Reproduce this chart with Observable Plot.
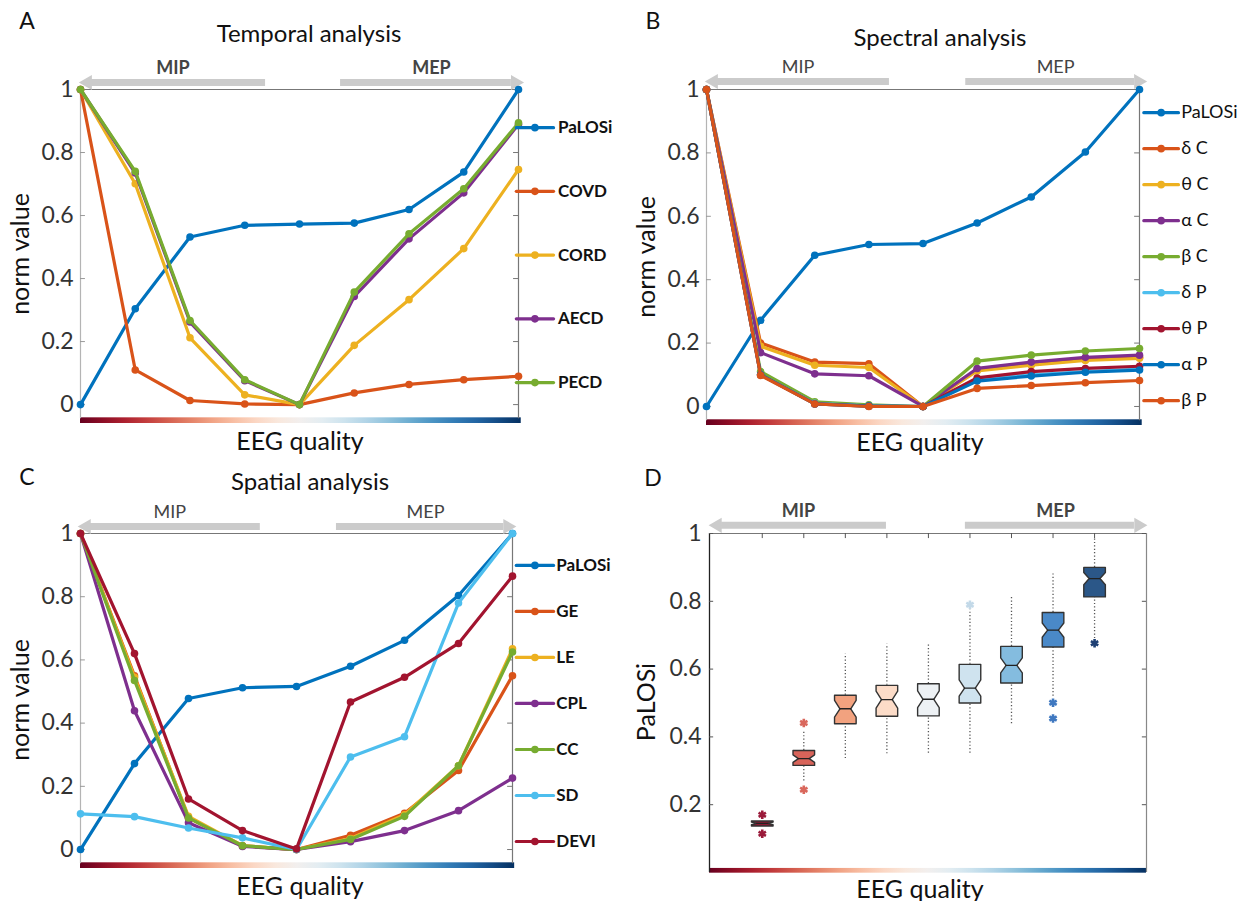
<!DOCTYPE html>
<html><head><meta charset="utf-8">
<script src="https://cdn.jsdelivr.net/npm/d3@7"></script>
<script src="https://cdn.jsdelivr.net/npm/@observablehq/plot@0.6"></script>
<style>
body{margin:0;background:#fff;}
#root{position:relative;width:1250px;height:901px;font-family:Lato,"Open Sans",sans-serif;color:#222;overflow:hidden;background:#fff}
.abs{position:absolute;white-space:nowrap;transform:translate(-50%,-50%);line-height:1}
.rot{transform:translate(-50%,-50%) rotate(-90deg);}
.panel{position:absolute;}
</style></head><body>
<svg width="0" height="0" style="position:absolute"><defs><linearGradient id="rdbu" x1="0" x2="1" y1="0" y2="0"></linearGradient></defs></svg>
<div id="root"></div>
<script>
// ---------------- DATA ----------------
const levels = [1, 2, 3, 4, 5, 6, 7, 8, 9];
const lineTicks = [0, 0.2, 0.4, 0.6, 0.8, 1];
const boxTicks = [0.2, 0.4, 0.6, 0.8, 1];

// Panel A: temporal analysis
const temporalNames = ["PaLOSi", "COVD", "CORD", "AECD", "PECD"];
const tPaLOSi = [0, 0.304, 0.532, 0.569, 0.573, 0.576, 0.619, 0.738, 1];
const tCOVD   = [1, 0.110, 0.013, 0.002, 0, 0.037, 0.064, 0.079, 0.090];
const tCORD   = [1, 0.701, 0.212, 0.031, 0, 0.188, 0.333, 0.495, 0.746];
const tAECD   = [1, 0.735, 0.262, 0.076, 0, 0.343, 0.526, 0.672, 0.890];
const tPECD   = [1, 0.740, 0.267, 0.079, 0, 0.357, 0.542, 0.685, 0.894];

// Panel B: spectral analysis
const spectralNames = ["PaLOSi", "δ C", "θ C", "α C", "β C", "δ P", "θ P", "α P", "β P"];
const sPaLOSi = [0, 0.272, 0.477, 0.511, 0.514, 0.579, 0.661, 0.803, 1];
const sDeltaC = [1, 0.200, 0.140, 0.135, 0, 0.115, 0.133, 0.148, 0.155];
const sThetaC = [1, 0.190, 0.130, 0.123, 0, 0.112, 0.130, 0.145, 0.152];
const sAlphaC = [1, 0.170, 0.103, 0.097, 0, 0.120, 0.140, 0.155, 0.162];
const sBetaC  = [1, 0.110, 0.015, 0.005, 0, 0.143, 0.162, 0.175, 0.183];
const sDeltaP = [1, 0.100, 0.010, 0.002, 0, 0.085, 0.100, 0.110, 0.118];
const sThetaP = [1, 0.100, 0.008, 0.001, 0, 0.090, 0.110, 0.120, 0.127];
const sAlphaP = [1, 0.100, 0.008, 0.001, 0, 0.080, 0.096, 0.108, 0.115];
const sBetaP  = [1, 0.098, 0.008, 0, 0, 0.057, 0.066, 0.075, 0.082];

// Panel C: spatial analysis
const spatialNames = ["PaLOSi", "GE", "LE", "CPL", "CC", "SD", "DEVI"];
const cPaLOSi = [0, 0.272, 0.478, 0.512, 0.516, 0.580, 0.662, 0.804, 1];
const cGE     = [1, 0.550, 0.100, 0.012, 0, 0.045, 0.115, 0.250, 0.550];
const cLE     = [1, 0.545, 0.105, 0.012, 0, 0.035, 0.110, 0.265, 0.635];
const cCPL    = [1, 0.439, 0.085, 0.010, 0, 0.025, 0.060, 0.123, 0.226];
const cCC     = [1, 0.535, 0.100, 0.012, 0, 0.032, 0.105, 0.265, 0.625];
const cSD     = [0.113, 0.104, 0.068, 0.037, 0, 0.293, 0.357, 0.780, 1];
const cDEVI   = [1, 0.620, 0.160, 0.060, 0.002, 0.467, 0.545, 0.652, 0.865];

// Panel D: PaLOSi boxplots per EEG quality level
const boxQ1       = [0.137, 0.316, 0.439, 0.461, 0.462, 0.500, 0.559, 0.665, 0.813];
const boxMedian   = [0.145, 0.336, 0.483, 0.510, 0.511, 0.544, 0.611, 0.715, 0.867];
const boxQ3       = [0.152, 0.360, 0.523, 0.552, 0.557, 0.614, 0.667, 0.767, 0.900];
const whiskerLow  = [0.137, 0.270, 0.336, 0.350, 0.352, 0.352, 0.439, 0.520, 0.690];
const whiskerHigh = [0.152, 0.420, 0.644, 0.673, 0.677, 0.775, 0.812, 0.887, 0.985];
const notchHalf   = [0.004, 0.011, 0.025, 0.025, 0.025, 0.024, 0.022, 0.021, 0.018];
const outlierLevel = [1, 1, 2, 2, 6, 8, 8, 9];
const outlierValue = [0.170, 0.114, 0.441, 0.244, 0.790, 0.501, 0.454, 0.676];

// colours
const matlab = ["#0072BD", "#D95319", "#EDB120", "#7E2F8E", "#77AC30", "#4DBEEE", "#A2142F"];
const boxColors = ["#8a1a33", "#d8645a", "#f2a27f", "#fcdcc8", "#edf1f4", "#cfe3ef", "#84bcdf", "#4a89c8", "#2b5788"];
const outlierColors = ["#9b1b3b", "#d9675c", "#f2a27f", "#fcdcc8", "#edf1f4", "#c3d9e8", "#84bcdf", "#3f78c0", "#1e3f73"];

// ---------------- helpers ----------------
const FONT = "Lato, 'Open Sans', sans-serif";
const grad = document.getElementById("rdbu");
d3.range(0, 1.0001, 0.05).forEach(t => {
  const s = document.createElementNS("http://www.w3.org/2000/svg", "stop");
  s.setAttribute("offset", t);
  s.setAttribute("stop-color", d3.interpolateRdBu(t));
  grad.appendChild(s);
});

const root = document.getElementById("root");
function label(text, x, y, css) {
  const d = document.createElement("div");
  d.className = "abs";
  d.textContent = text;
  d.style.left = x + "px";
  d.style.top = y + "px";
  Object.assign(d.style, css || {});
  root.appendChild(d);
  return d;
}
function place(svg, left, top) {
  const w = document.createElement("div");
  w.className = "panel";
  w.style.left = left + "px";
  w.style.top = top + "px";
  w.appendChild(svg);
  root.appendChild(w);
}
const fmt = d => String(d);

function arrowMarks(a, bold) {
  const shaft = {stroke: "#cbcbcb", strokeWidth: 7};
  return [
    Plot.ruleY([{y: a.y, x1: a.mip[0] + a.head, x2: a.mip[1]}], {y: "y", x1: "x1", x2: "x2", ...shaft}),
    Plot.dot([{x: a.mip[0], y: a.y}], {x: "x", y: "y", symbol: "triangle", r: 5.6, rotate: -90, dx: 7, fill: "#cbcbcb"}),
    Plot.ruleY([{y: a.y, x1: a.mep[0], x2: a.mep[1] - a.head}], {y: "y", x1: "x1", x2: "x2", ...shaft}),
    Plot.dot([{x: a.mep[1], y: a.y}], {x: "x", y: "y", symbol: "triangle", r: 5.6, rotate: 90, dx: -7, fill: "#cbcbcb"}),
    Plot.text([{x: (a.mip[0] + a.mip[1]) / 2, y: a.y, t: "MIP"}, {x: (a.mep[0] + a.mep[1]) / 2, y: a.y, t: "MEP"}],
      {x: "x", y: "y", text: "t", dy: -14, fontSize: 18, fontWeight: bold ? "bold" : "normal", fill: "#444"})
  ];
}

function linePanel(p) {
  const marks = [];
  marks.push(Plot.rect([{x1: 1, x2: p.cbRight, y1: -0.06, y2: -0.042}], {x1: "x1", x2: "x2", y1: "y1", y2: "y2", fill: "url(#rdbu)"}));
  marks.push(Plot.ruleX([{x: 1, y1: -0.045, y2: 1}], {x: "x", y1: "y1", y2: "y2", stroke: "#b4b4b4", strokeWidth: 1.2}));
  marks.push(Plot.ruleX([{x: 9, y1: -0.045, y2: 1}], {x: "x", y1: "y1", y2: "y2", stroke: "#777", strokeWidth: 1.2}));
  marks.push(Plot.ruleY([{y: 1, x1: 1, x2: 9}], {y: "y", x1: "x1", x2: "x2", stroke: "#777", strokeWidth: 1.2}));
  marks.push(Plot.ruleY(lineTicks, {y: d => d, x1: 1, x2: 1.09, stroke: "#999"}));
  marks.push(Plot.ruleY(lineTicks, {y: d => d, x1: 8.91, x2: 9, stroke: "#777"}));
  marks.push(...arrowMarks(p.arrows, p.bold));
  p.series.forEach(s => {
    const rows = levels.map((l, j) => ({x: l, y: s.values[j]}));
    marks.push(Plot.line(rows, {x: "x", y: "y", stroke: s.color, strokeWidth: 3.2}));
    marks.push(Plot.dot(rows, {x: "x", y: "y", r: 3.8, fill: s.color}));
  });
  const L = p.legend;
  p.series.forEach((s, i) => {
    const ly = L.top - i * L.step;
    marks.push(Plot.line([{x: L.x1, y: ly}, {x: L.x2, y: ly}], {x: "x", y: "y", stroke: s.color, strokeWidth: 3.2}));
    marks.push(Plot.dot([{x: (L.x1 + L.x2) / 2, y: ly}], {x: "x", y: "y", r: 3.8, fill: s.color}));
    marks.push(Plot.text([{x: L.tx, y: ly, t: s.name}], {x: "x", y: "y", text: "t", textAnchor: "start",
      fontSize: L.fontSize, fontWeight: L.bold ? "bold" : "normal", fill: "#111"}));
  });
  return Plot.plot({
    width: p.width, height: p.height,
    marginLeft: p.ml, marginRight: p.mr, marginTop: p.mt, marginBottom: p.mb,
    x: {domain: [1, 9], axis: null},
    y: {domain: [-0.06, 1], ticks: lineTicks, tickFormat: fmt, tickSize: 0, tickPadding: 7, label: null},
    style: {fontFamily: FONT, fontSize: "23px", color: "#333", background: "transparent", overflow: "visible"},
    marks
  });
}

// ---------------- Panel A ----------------
const tValues = [tPaLOSi, tCOVD, tCORD, tAECD, tPECD];
place(linePanel({
  width: 620, height: 450, ml: 80, mr: 102, mt: 89, mb: 27, cbRight: 9.05, bold: true,
  series: temporalNames.map((n, i) => ({name: n, values: tValues[i], color: matlab[i]})),
  legend: {top: 0.879, step: 0.2023, x1: 8.96, x2: 9.64, tx: 9.72, fontSize: 17, bold: true},
  arrows: {y: 1.022, head: 0.2, mip: [1, 4.38], mep: [5.75, 9.07]}
}), 0, 0);

// ---------------- Panel B ----------------
const sValues = [sPaLOSi, sDeltaC, sThetaC, sAlphaC, sBetaC, sDeltaP, sThetaP, sAlphaP, sBetaP];
const sColors = [matlab[0], matlab[1], matlab[2], matlab[3], matlab[4], matlab[5], matlab[6], matlab[0], matlab[1]];
place(linePanel({
  width: 630, height: 450, ml: 86, mr: 111, mt: 89, mb: 25, cbRight: 9.05, bold: false,
  series: spectralNames.map((n, i) => ({name: n, values: sValues[i], color: sColors[i]})),
  legend: {top: 0.927, step: 0.1136, x1: 9.08, x2: 9.72, tx: 9.77, fontSize: 18, bold: false},
  arrows: {y: 1.025, head: 0.2, mip: [1, 4.38], mep: [5.79, 9.11]}
}), 620, 0);

// ---------------- Panel C ----------------
const cValues = [cPaLOSi, cGE, cLE, cCPL, cCC, cSD, cDEVI];
place(linePanel({
  width: 620, height: 451, ml: 80, mr: 108, mt: 83, mb: 33, cbRight: 9.04, bold: false,
  series: spatialNames.map((n, i) => ({name: n, values: cValues[i], color: matlab[i]})),
  legend: {top: 0.899, step: 0.1456, x1: 9.07, x2: 9.76, tx: 9.81, fontSize: 17, bold: true},
  arrows: {y: 1.022, head: 0.2, mip: [0.98, 4.33], mep: [5.74, 9.04]}
}), 0, 450);

// ---------------- Panel D ----------------
(function () {
  const xL = -0.27, xR = 10.25, hw = 0.26, nw = 0.13;
  const boxes = levels.map((c, i) => {
    const q1 = boxQ1[i], m = boxMedian[i], q3 = boxQ3[i];
    const n = Math.min(notchHalf[i], m - q1, q3 - m);
    return {c, q1, m, q3, n, lo: whiskerLow[i], hi: whiskerHigh[i], color: boxColors[i]};
  });
  const marks = [];
  marks.push(Plot.rect([{x1: xL, x2: xR, y1: -0.002, y2: 0.012}], {x1: "x1", x2: "x2", y1: "y1", y2: "y2", fill: "url(#rdbu)"}));
  marks.push(Plot.ruleX([{x: xL, y1: 0, y2: 1}], {x: "x", y1: "y1", y2: "y2", stroke: "#222", strokeWidth: 1.3}));
  marks.push(Plot.ruleX([{x: xR, y1: 0, y2: 1}], {x: "x", y1: "y1", y2: "y2", stroke: "#888", strokeWidth: 1.2}));
  marks.push(Plot.ruleY([{y: 1, x1: xL, x2: xR}], {y: "y", x1: "x1", x2: "x2", stroke: "#777", strokeWidth: 1.2}));
  marks.push(Plot.ruleX(levels, {x: d => d, y1: 1, y2: 0.985, stroke: "#555"}));
  marks.push(Plot.ruleY(boxTicks, {y: d => d, x1: xR - 0.1, x2: xR, stroke: "#555"}));
  marks.push(Plot.ruleY(boxTicks, {y: d => d, x1: xL, x2: xL + 0.1, stroke: "#555"}));
  marks.push(...arrowMarks({y: 1.024, head: 0.27, mip: [-0.25, 3.99], mep: [5.89, 10.23]}, true));
  marks.push(Plot.ruleX(boxes, {x: "c", y1: "q3", y2: "hi", stroke: "#555", strokeWidth: 1.3, strokeDasharray: "1.2,2.2"}));
  marks.push(Plot.ruleX(boxes, {x: "c", y1: "lo", y2: "q1", stroke: "#555", strokeWidth: 1.3, strokeDasharray: "1.2,2.2"}));
  boxes.forEach(b => {
    const pts = [
      [b.c - hw, b.q1], [b.c + hw, b.q1], [b.c + hw, b.m - b.n], [b.c + nw, b.m], [b.c + hw, b.m + b.n],
      [b.c + hw, b.q3], [b.c - hw, b.q3], [b.c - hw, b.m + b.n], [b.c - nw, b.m], [b.c - hw, b.m - b.n], [b.c - hw, b.q1]
    ].map(([x, y]) => ({x, y}));
    marks.push(Plot.line(pts, {x: "x", y: "y", fill: b.color, stroke: "#333", strokeWidth: 1.4, curve: "linear"}));
    marks.push(Plot.line([{x: b.c - nw, y: b.m}, {x: b.c + nw, y: b.m}], {x: "x", y: "y", stroke: "#222", strokeWidth: 1.4}));
  });
  const outs = outlierLevel.map((l, i) => ({x: l, y: outlierValue[i], color: outlierColors[l - 1]}));
  marks.push(Plot.dot(outs, {x: "x", y: "y", symbol: "asterisk", r: 4, stroke: "color", strokeWidth: 2.6}));
  place(Plot.plot({
    width: 630, height: 451, marginLeft: 89, marginRight: 104, marginTop: 83, marginBottom: 29,
    x: {domain: [xL, xR], axis: null},
    y: {domain: [0, 1], ticks: boxTicks, tickFormat: fmt, tickSize: 0, tickPadding: 8, label: null},
    color: {type: "identity"},
    style: {fontFamily: FONT, fontSize: "23px", color: "#333", background: "transparent", overflow: "visible"},
    marks
  }), 620, 450);
})();

// ---------------- HTML text ----------------
const big = {fontSize: "23px", color: "#111"};
label("A", 27, 20, big);
label("B", 653, 20, big);
label("C", 27, 476, big);
label("D", 653, 477, big);
const ttl = {fontSize: "24px", color: "#111"};
label("Temporal analysis", 309, 33, ttl);
label("Spectral analysis", 940, 37, ttl);
label("Spatial analysis", 310, 481, ttl);
const xl = {fontSize: "25px", color: "#111"};
label("EEG quality", 300, 440, xl);
label("EEG quality", 920, 441, xl);
label("EEG quality", 300, 885, xl);
label("EEG quality", 920, 888, xl);
const yl = {fontSize: "25px", color: "#111"};
label("norm value", 19, 254, yl).classList.add("rot");
label("norm value", 645, 257, yl).classList.add("rot");
label("norm value", 19, 700, yl).classList.add("rot");
label("PaLOSi", 645, 702, yl).classList.add("rot");
</script>
</body></html>
